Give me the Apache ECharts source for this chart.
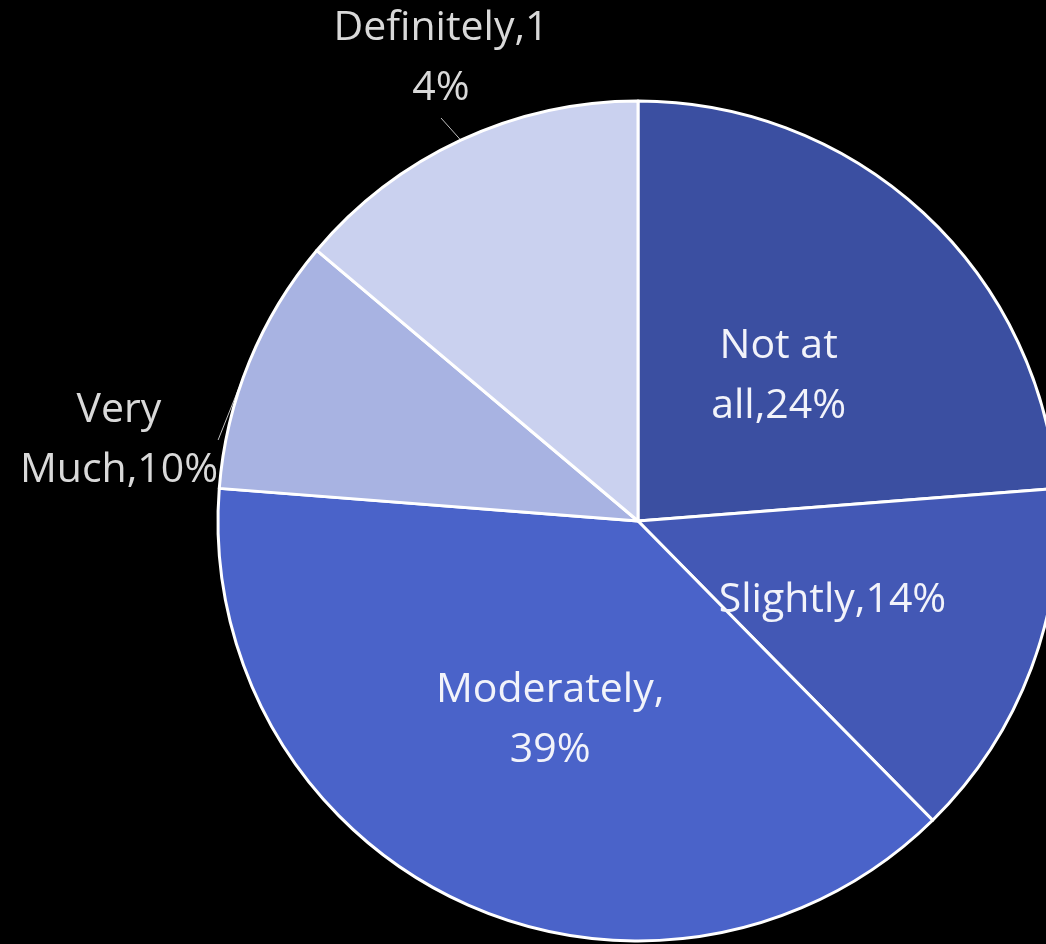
<!DOCTYPE html>
<html><head><meta charset="utf-8">
<script src="https://cdn.jsdelivr.net/npm/echarts@6/dist/echarts.min.js"></script>
<style>html,body{margin:0;padding:0;background:#000;}#c{width:1046px;height:944px;}</style>
</head><body><div id="c"></div>
<script>
const categories = ["Not at all", "Slightly", "Moderately", "Very Much", "Definitely"];
const values = [24, 14, 39, 10, 14];
const colors = ["#3b4fa1", "#4358b5", "#4a63c9", "#a8b3e2", "#cad1ef"];

// character position where each label wraps (-1 = no wrap)
const breakAt = [6, -1, 11, 4, 12];
const outside = [false, false, false, true, true];
const outsidePos = { 3: [119, 440], 4: [441, 58] };
const insideShift = { 0: [-4, 12], 1: [-5, 5], 2: [2, 6] };

function labelText(i) {
  const s = categories[i] + ',' + values[i] + '%';
  if (breakAt[i] < 0) return s;
  return s.slice(0, breakAt[i]).trim() + '\n' + s.slice(breakAt[i]).trim();
}

const chart = echarts.init(document.getElementById('c'));
chart.setOption({
  backgroundColor: '#000',
  animation: false,
  series: [{
    type: 'pie',
    center: [638, 521],
    radius: 420,
    startAngle: 90,
    clockwise: true,
    itemStyle: { borderColor: '#ffffff', borderWidth: 3 },
    label: {
      fontFamily: '"Open Sans", sans-serif',
      fontSize: 41,
      lineHeight: 60,
      formatter: p => labelText(p.dataIndex)
    },
    labelLayout: p => {
      const pos = outsidePos[p.dataIndex];
      if (pos) return { x: pos[0], y: pos[1], align: 'center', verticalAlign: 'middle' };
      const s = insideShift[p.dataIndex];
      return s ? { dx: s[0], dy: s[1] } : {};
    },
    data: categories.map((n, i) => ({
      name: n,
      value: values[i],
      itemStyle: { color: colors[i] },
      label: {
        position: outside[i] ? 'outside' : 'inside',
        color: outside[i] ? '#d9d9d9' : '#f2f3fa',
        align: 'center'
      },
      labelLine: { show: outside[i], length: 14, length2: 0, lineStyle: { color: '#bfbfbf', width: 1 } }
    }))
  }]
});
</script></body></html>
